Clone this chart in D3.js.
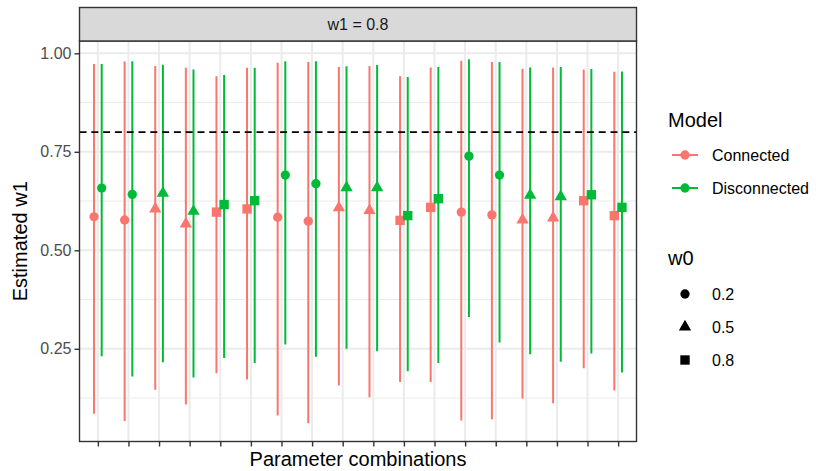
<!DOCTYPE html>
<html>
<head>
<meta charset="utf-8">
<script src="https://cdn.jsdelivr.net/npm/d3@7"></script>
<style>
  html, body { margin: 0; padding: 0; background: #fff; }
  svg { display: block; font-family: "Liberation Sans", Arial, Helvetica, sans-serif; }
</style>
</head>
<body>
<svg id="chart" width="816" height="471"></svg>
<script>
// Parameter combinations (x axis carries no labels, only ticks)
const combos = d3.range(1, 19).map(i => "combo" + i);
// w0 value of each combination (mapped to point shape)
const w0 = [0.2, 0.2, 0.5, 0.5, 0.8, 0.8, 0.2, 0.2, 0.5, 0.5, 0.8, 0.8, 0.2, 0.2, 0.5, 0.5, 0.8, 0.8];
const models = ["Connected", "Disconnected"];
const w0Levels = [0.2, 0.5, 0.8];

// Estimates and interval bounds for w1, per model
const connectedEst = [0.585, 0.577, 0.605, 0.567, 0.597, 0.605, 0.584, 0.574, 0.608, 0.601, 0.576, 0.609, 0.597, 0.590, 0.577, 0.582, 0.626, 0.588];
const connectedLo  = [0.085, 0.067, 0.146, 0.109, 0.188, 0.172, 0.081, 0.061, 0.157, 0.127, 0.166, 0.166, 0.068, 0.071, 0.124, 0.112, 0.201, 0.144];
const connectedHi  = [0.973, 0.979, 0.968, 0.963, 0.942, 0.963, 0.976, 0.978, 0.965, 0.968, 0.942, 0.964, 0.981, 0.978, 0.961, 0.964, 0.959, 0.953];
const disconnectedEst = [0.658, 0.642, 0.645, 0.599, 0.616, 0.626, 0.691, 0.669, 0.659, 0.659, 0.588, 0.631, 0.739, 0.691, 0.640, 0.636, 0.641, 0.609];
const disconnectedLo  = [0.231, 0.180, 0.216, 0.177, 0.227, 0.214, 0.261, 0.230, 0.250, 0.244, 0.193, 0.214, 0.331, 0.266, 0.236, 0.217, 0.238, 0.190];
const disconnectedHi  = [0.973, 0.980, 0.971, 0.959, 0.945, 0.963, 0.980, 0.980, 0.967, 0.970, 0.940, 0.965, 0.985, 0.978, 0.964, 0.965, 0.960, 0.954];

const trueW1 = 0.8;
const yTicks = [0.25, 0.50, 0.75, 1.00];
const yMinor = [0.125, 0.375, 0.625, 0.875];
const stripLabel = "w1 = 0.8";

const colors = { Connected: "#F8766D", Disconnected: "#00BA38" };
const shapes = { 0.2: d3.symbolCircle, 0.5: d3.symbolTriangle, 0.8: d3.symbolSquare };
const shapeSize = { 0.2: 68, 0.5: 66, 0.8: 88 };

// long-format rows
const rows = [];
models.forEach(m => {
  const est = m === "Connected" ? connectedEst : disconnectedEst;
  const lo = m === "Connected" ? connectedLo : disconnectedLo;
  const hi = m === "Connected" ? connectedHi : disconnectedHi;
  combos.forEach((c, i) => rows.push({ combo: c, model: m, w0: w0[i], est: est[i], lo: lo[i], hi: hi[i] }));
});

const svg = d3.select("#chart");
const P = { left: 79.5, right: 636.5, top: 41, bottom: 441.5, stripTop: 7.5 };

const x = d3.scalePoint().domain(combos).range([P.left, P.right]).padding(0.6);
const dodge = d3.scalePoint().domain(models).range([-0.125, 0.125]).padding(0);
const ext = [d3.min(rows, d => d.lo), d3.max(rows, d => d.hi)];
const pad = (ext[1] - ext[0]) * 0.05;
const y = d3.scaleLinear().domain([ext[0] - pad, ext[1] + pad]).range([P.bottom, P.top]);
const xPos = d => x(d.combo) + dodge(d.model) * x.step();

// panel background
svg.append("rect").attr("x", P.left).attr("y", P.top)
  .attr("width", P.right - P.left).attr("height", P.bottom - P.top).attr("fill", "#fff");

// grid lines
const grid = svg.append("g").attr("stroke", "#EBEBEB");
grid.selectAll(".minor").data(yMinor).join("line")
  .attr("x1", P.left).attr("x2", P.right)
  .attr("y1", d => y(d)).attr("y2", d => y(d)).attr("stroke-width", 1);
grid.selectAll(".majorY").data(yTicks).join("line")
  .attr("x1", P.left).attr("x2", P.right)
  .attr("y1", d => y(d)).attr("y2", d => y(d)).attr("stroke-width", 2);
grid.selectAll(".majorX").data(combos).join("line")
  .attr("y1", P.top).attr("y2", P.bottom)
  .attr("x1", d => x(d)).attr("x2", d => x(d)).attr("stroke-width", 2);

// interval ranges
svg.append("g").selectAll("line").data(rows).join("line")
  .attr("x1", xPos).attr("x2", xPos)
  .attr("y1", d => y(d.lo)).attr("y2", d => y(d.hi))
  .attr("stroke", d => colors[d.model]).attr("stroke-width", 2);

// point estimates
svg.append("g").selectAll("path").data(rows).join("path")
  .attr("transform", d => `translate(${xPos(d)},${y(d.est)})`)
  .attr("d", d => d3.symbol(shapes[d.w0], shapeSize[d.w0])())
  .attr("fill", d => colors[d.model]);

// reference line at the true w1
svg.append("line")
  .attr("x1", P.left).attr("x2", P.right)
  .attr("y1", y(trueW1)).attr("y2", y(trueW1))
  .attr("stroke", "#000").attr("stroke-width", 1.7)
  .attr("stroke-dasharray", "7,4.8").attr("stroke-linecap", "butt");

// panel border
svg.append("rect").attr("x", P.left).attr("y", P.top)
  .attr("width", P.right - P.left).attr("height", P.bottom - P.top)
  .attr("fill", "none").attr("stroke", "#333333").attr("stroke-width", 1.4);

// facet strip
svg.append("rect").attr("x", P.left).attr("y", P.stripTop)
  .attr("width", P.right - P.left).attr("height", P.top - P.stripTop)
  .attr("fill", "#D9D9D9").attr("stroke", "#333333").attr("stroke-width", 1.4);
svg.append("text").attr("x", (P.left + P.right) / 2).attr("y", (P.stripTop + P.top) / 2)
  .attr("text-anchor", "middle").attr("dominant-baseline", "central")
  .attr("font-size", 16).attr("fill", "#1A1A1A").text(stripLabel);

// axes
const yAxis = d3.axisLeft(y).tickValues(yTicks).tickFormat(d3.format(".2f")).tickSize(5).tickPadding(3);
const gy = svg.append("g").attr("transform", `translate(${P.left},0)`).call(yAxis);
gy.select(".domain").remove();
gy.selectAll(".tick line").attr("stroke", "#333333").attr("stroke-width", 1.4);
gy.selectAll(".tick text").attr("font-size", 16).attr("fill", "#4D4D4D").attr("font-family", null);

const xAxis = d3.axisBottom(x).tickFormat("").tickSize(5);
const gx = svg.append("g").attr("transform", `translate(0,${P.bottom})`).call(xAxis);
gx.select(".domain").remove();
gx.selectAll(".tick line").attr("stroke", "#333333").attr("stroke-width", 1.4);

// axis titles
svg.append("text").attr("x", (P.left + P.right) / 2).attr("y", 466)
  .attr("text-anchor", "middle").attr("font-size", 20).attr("fill", "#000")
  .text("Parameter combinations");
svg.append("text").attr("transform", `translate(27,${(P.top + P.bottom) / 2}) rotate(-90)`)
  .attr("text-anchor", "middle").attr("font-size", 20).attr("fill", "#000")
  .text("Estimated w1");

// legend: Model (colour)
const lg = svg.append("g");
lg.append("text").attr("x", 668).attr("y", 127).attr("font-size", 20).attr("fill", "#000").text("Model");
const modelKeys = lg.selectAll(".mk").data(models).join("g")
  .attr("transform", (d, i) => `translate(685,${155 + i * 33})`);
modelKeys.append("line").attr("x1", -13).attr("x2", 13)
  .attr("stroke", d => colors[d]).attr("stroke-width", 2);
modelKeys.append("path").attr("d", d3.symbol(d3.symbolCircle, 68)()).attr("fill", d => colors[d]);
modelKeys.append("text").attr("x", 27).attr("dominant-baseline", "central")
  .attr("font-size", 16).attr("fill", "#000").text(d => d);

// legend: w0 (shape)
lg.append("text").attr("x", 668).attr("y", 265).attr("font-size", 20).attr("fill", "#000").text("w0");
const shapeKeys = lg.selectAll(".sk").data(w0Levels).join("g")
  .attr("transform", (d, i) => `translate(685,${294 + i * 33})`);
shapeKeys.append("path").attr("d", d => d3.symbol(shapes[d], shapeSize[d])()).attr("fill", "#000");
shapeKeys.append("text").attr("x", 27).attr("dominant-baseline", "central")
  .attr("font-size", 16).attr("fill", "#000").text(d => d.toFixed(1));
</script>
</body>
</html>
